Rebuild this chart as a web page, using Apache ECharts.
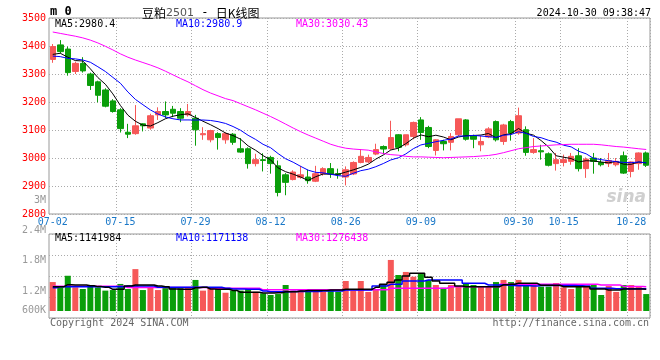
<!DOCTYPE html>
<html><head><meta charset="utf-8">
<script src="https://cdn.jsdelivr.net/npm/echarts@6/dist/echarts.min.js"></script>
<style>html,body{margin:0;padding:0;background:#fff}#c{width:660px;height:360px}</style>
</head><body><div id="c"></div>
<script>
const dates = ['07-02','07-03','07-04','07-05','07-08','07-09','07-10','07-11','07-12','07-15','07-16','07-17','07-18','07-19','07-22','07-23','07-24','07-25','07-26','07-29','07-30','07-31',
'08-01','08-02','08-05','08-06','08-07','08-08','08-09','08-12','08-13','08-14','08-15','08-16','08-19','08-20','08-21','08-22','08-23','08-26','08-27','08-28','08-29','08-30',
'09-02','09-03','09-04','09-05','09-06','09-09','09-10','09-11','09-12','09-13','09-18','09-19','09-20','09-23','09-24','09-25','09-26','09-27','09-30',
'10-08','10-09','10-10','10-11','10-14','10-15','10-16','10-17','10-18','10-21','10-22','10-23','10-24','10-25','10-28','10-29','10-30'];
const opens = [3352,3404,3389,3309,3338,3300,3272,3243,3204,3172,3092,3087,3122,3107,3154,3166,3174,3166,3154,3142,3083,3065,3087,3065,3085,3033,3033,2980,2994,3002,2972,2940,2923,2931,2932,2917,2943,2962,2944,2932,2943,2984,2986,3014,3041,3033,3083,3047,3077,3136,3109,3027,3059,3056,3083,3136,3079,3047,3075,3130,3059,3130,3089,3101,3020,3026,3015,2980,2984,2988,3008,2962,3000,2984,2980,2976,3008,2952,2980,3018];
const closes = [3398,3380,3305,3338,3311,3259,3224,3185,3166,3105,3085,3115,3115,3151,3166,3154,3160,3142,3166,3101,3087,3098,3073,3087,3056,3021,2980,2994,2991,2980,2877,2913,2950,2940,2919,2944,2962,2944,2940,2958,2984,3006,3002,3030,3032,3073,3038,3083,3127,3091,3041,3065,3051,3077,3140,3067,3067,3059,3104,3065,3118,3089,3151,3020,3030,3022,2974,2994,2994,3006,2962,2996,2988,2976,2991,2988,2946,2986,3018,2974];
const lows = [3340,3374,3294,3300,3305,3243,3199,3181,3162,3091,3071,3083,3095,3101,3136,3142,3146,3128,3148,3044,3065,3056,3030,3051,3047,3018,2962,2970,2952,2944,2863,2867,2920,2926,2908,2914,2937,2929,2926,2902,2939,2981,2982,3010,3014,3029,3024,3041,3067,3065,3035,3009,3027,3027,3077,3062,3035,3024,3071,3059,3047,3062,3083,3008,3015,2994,2970,2955,2970,2976,2952,2929,2944,2970,2968,2970,2943,2931,2958,2968];
const highs = [3407,3421,3398,3344,3360,3305,3276,3249,3210,3178,3122,3189,3124,3158,3181,3202,3186,3178,3193,3154,3110,3101,3092,3092,3089,3071,3038,3015,3017,3008,2991,2946,2956,2972,2958,2972,2967,2982,2962,2970,2988,3032,3012,3051,3045,3133,3085,3083,3130,3146,3115,3067,3065,3089,3140,3139,3083,3079,3110,3134,3122,3136,3180,3113,3071,3047,3020,3018,3012,3018,3035,3002,3018,3000,3018,3000,3023,2988,3020,3023];
const ma5 = [3370,3374,3360,3348,3346.4,3318.6,3287.4,3263.4,3229,3187.8,3153,3131.2,3117.2,3114.2,3126.4,3140.2,3149.2,3154.6,3157.6,3144.6,3131.2,3118.8,3105,3089.2,3080.2,3067,3043.4,3027.6,3008.4,2993.2,2964.4,2951,2942.2,2932,2919.8,2933.2,2943,2941.8,2941.8,2949.6,2957.6,2966.4,2978,2996,3010.8,3028.6,3035,3051.2,3070.6,3082.4,3076,3081.4,3075,3065,3074.8,3080,3080.4,3082,3087.4,3072.4,3082.6,3087,3105.4,3088.6,3081.6,3062.4,3039.4,3008,3002.8,2998,2986,2990.4,2989.2,2985.6,2982.6,2987.8,2977.8,2977.4,2985.8,2982.4];
const ma10 = [3364,3362,3356,3354,3350,3342,3326,3309,3288,3267.1,3235.8,3209.3,3190.3,3171.6,3157.1,3146.6,3140.2,3135.9,3135.9,3135.5,3135.7,3134,3129.8,3123.4,3112.4,3099.1,3081.1,3066.3,3048.8,3036.7,3015.7,2997.2,2984.9,2970.2,2956.5,2948.8,2947,2942,2936.9,2934.7,2945.4,2954.7,2959.9,2968.9,2980.2,2993.1,3000.7,3014.6,3033.3,3046.6,3052.3,3058.2,3063.1,3067.8,3078.6,3078,3080.9,3078.5,3076.2,3073.6,3081.3,3083.7,3093.7,3088,3077,3072.5,3063.2,3056.7,3045.7,3039.8,3024.2,3014.9,2998.6,2994.2,2990.3,2986.9,2984.1,2983.3,2985.7,2982.5];
const ma30 = [3450,3445,3440,3435,3429,3421,3411,3399,3386,3372,3360,3350,3341,3332,3322,3310,3297,3284,3272,3258,3244,3232,3222,3212,3205,3194,3183,3172,3160,3148,3135,3121,3107,3094,3082,3071,3060,3049,3041,3035,3032,3030,3028,3022,3016,3012,3010,3006,3004,3004,3003,3002,3001,3002,3003,3004,3005,3007,3009,3013,3019,3026,3033,3037,3041,3043,3045,3047,3048,3049,3049,3049,3049,3047,3044,3041,3039,3036,3033,3030.4];
// volume in thousands of lots
const volumesK = [1520,1240,1850,1240,1155,1365,1240,1070,1100,1420,1155,2200,1100,1240,1100,1240,1240,1240,1240,1630,1070,1190,1190,960,1070,1070,1155,1010,930,840,890,1365,1070,1155,1010,1010,1010,1100,1010,1575,1070,1575,1000,1155,1365,2680,1890,2050,1800,1940,1630,1365,1220,1365,1280,1420,1365,1280,1280,1520,1630,1520,1630,1365,1450,1280,1280,1470,1240,1155,1365,1280,1365,840,1310,1000,1365,1365,1280,890];
const volMa5K = [1276,1276,1381,1365,1365,1330,1280,1244,1139,1139,1313,1365,1365,1365,1313,1276,1155,1139,1139,1220,1244,1155,1139,1139,1080,982,982,982,945,945,960,1013,1013,1050,1080,1080,1080,1103,1103,1139,1139,1139,1139,1244,1400,1507,1628,1838,1979,1979,1769,1575,1454,1454,1313,1276,1276,1276,1276,1276,1380,1402,1454,1454,1454,1349,1349,1349,1276,1276,1276,1276,1155,1155,1103,1103,1155,1155,1155,1142];
const volMa10K = [1223,1276,1276,1276,1276,1276,1276,1276,1276,1276,1313,1313,1313,1313,1244,1244,1244,1244,1244,1244,1244,1244,1244,1192,1155,1155,1139,1139,1050,1013,1013,1013,1030,1030,1030,1030,1050,1050,1050,1103,1103,1103,1103,1313,1313,1400,1402,1575,1575,1575,1628,1628,1628,1628,1628,1454,1454,1454,1365,1365,1365,1340,1330,1330,1313,1340,1340,1340,1340,1340,1330,1313,1192,1192,1192,1171,1171,1171,1171,1171];
const volMa30K = [1300,1300,1300,1300,1300,1300,1300,1300,1300,1300,1230,1230,1230,1230,1230,1230,1230,1230,1230,1230,1230,1200,1200,1200,1200,1200,1200,1200,1110,1110,1110,1110,1110,1110,1110,1110,1110,1110,1110,1110,1110,1110,1110,1110,1110,1192,1192,1192,1192,1192,1192,1192,1192,1276,1276,1276,1276,1276,1276,1276,1400,1400,1400,1400,1400,1400,1400,1400,1400,1400,1400,1400,1400,1370,1370,1370,1290,1290,1290,1276];
const xTickLabels = ['07-02','07-15','07-29','08-12','08-26','09-09','09-30','10-15','10-28'];
const volTickLabels = ['2.4M','1.8M','1.2M','600K'];
const extraLabel = '3M';
const priceMin = 2800, priceMax = 3500, priceStep = 100;

const UP = '#f65858', DOWN = '#0a9e0a';
const MONO = 'DejaVu Sans Mono';
const candleData = opens.map((o, i) => [o, closes[i], lows[i], highs[i]]);
const volData = volumesK.map((v, i) => ({ value: v, itemStyle: { color: closes[i] >= opens[i] ? UP : DOWN } }));
const showTick = (idx, val) => xTickLabels.indexOf(val) >= 0;
const showSplit = (idx, val) => idx > 0 && xTickLabels.indexOf(val) >= 0;

const L = 49, W = 601;
const grids = [
  { left: L, width: W, top: 18, height: 196, show: true, borderColor: '#999', borderWidth: 1, backgroundColor: 'transparent' },
  { left: L, width: W, top: 234, height: 84, show: true, borderColor: '#999', borderWidth: 1 },
  { left: L, width: W, top: 234, height: 77, show: false }
];
const catAxis = (gi, labels, split) => ({
  type: 'category', gridIndex: gi, data: dates, boundaryGap: true,
  axisLine: { show: false }, axisTick: { show: false },
  axisLabel: labels ? { show: true, interval: showTick, color: '#1a78c8', fontFamily: MONO, fontSize: 10, margin: 3 } : { show: false },
  splitLine: split ? { show: true, interval: showSplit, lineStyle: { color: '#aaa', type: [1, 2], width: 1 } } : { show: false }
});

const opt = {
  animation: false,
  backgroundColor: '#fff',
  grid: grids,
  xAxis: [catAxis(0, true, true), catAxis(1, false, true), catAxis(2, false, false)],
  yAxis: [
    { type: 'value', gridIndex: 0, min: priceMin, max: priceMax, interval: priceStep,
      axisLine: { show: false }, axisTick: { show: false },
      axisLabel: { color: '#f00', fontFamily: MONO, fontSize: 10, margin: 3, formatter: v => String(v) },
      splitLine: { show: true, lineStyle: { color: '#aaa', type: [1, 2] } } },
    { type: 'value', gridIndex: 1, min: 0, max: 4, interval: 1,
      axisLine: { show: false }, axisTick: { show: false }, axisLabel: { show: false },
      splitLine: { show: true, lineStyle: { color: '#aaa', type: [1, 2] } } },
    { type: 'value', gridIndex: 2, min: 0, max: 77 * 52.5, show: false, splitLine: { show: false } }
  ],
  series: [
    { type: 'candlestick', xAxisIndex: 0, yAxisIndex: 0, data: candleData, barWidth: 6,
      itemStyle: { color: UP, color0: DOWN, borderColor: UP, borderColor0: DOWN, borderWidth: 1 } },
    { type: 'line', xAxisIndex: 0, yAxisIndex: 0, data: ma5, symbol: 'none', lineStyle: { color: '#000', width: 1 } },
    { type: 'line', xAxisIndex: 0, yAxisIndex: 0, data: ma10, symbol: 'none', lineStyle: { color: '#0000ff', width: 1 } },
    { type: 'line', xAxisIndex: 0, yAxisIndex: 0, data: ma30, symbol: 'none', lineStyle: { color: '#ff00ff', width: 1 } },
    { type: 'bar', xAxisIndex: 2, yAxisIndex: 2, data: volData, barWidth: 6 },
    { type: 'line', xAxisIndex: 2, yAxisIndex: 2, data: volMa30K, symbol: 'none', step: 'middle', lineStyle: { color: '#ff00ff', width: 1.5 } },
    { type: 'line', xAxisIndex: 2, yAxisIndex: 2, data: volMa10K, symbol: 'none', step: 'middle', lineStyle: { color: '#0000ff', width: 1.5 } },
    { type: 'line', xAxisIndex: 2, yAxisIndex: 2, data: volMa5K, symbol: 'none', step: 'middle', lineStyle: { color: '#000', width: 1.5 } }
  ]
};

function txt(x, y, text, font, fill, align) {
  return { type: 'text', x: x, y: y, silent: true, z: 100,
    style: { text: text, font: font, fill: fill, align: align || 'left', textAlign: align || 'left', verticalAlign: 'middle', textVerticalAlign: 'middle' } };
}
const volLabelY = [230.5, 260, 291, 310.5];
opt.graphic = [
  txt(50, 12, 'm 0', 'bold 12px ' + MONO, '#000'),
  { type: 'text', x: 142, y: 13, silent: true, z: 100,
    style: { text: '{a|豆粕}{b|2501}{c| - }{a|日K线图}', verticalAlign: 'middle', textVerticalAlign: 'middle',
      rich: { a: { font: '12px "Noto Sans CJK SC"', fill: '#000' }, b: { font: '11px "DejaVu Sans"', fill: '#555' }, c: { font: '12px ' + MONO, fill: '#000' } } } },
  txt(651, 13, '2024-10-30 09:38:47', '10px ' + MONO, '#000', 'right'),
  txt(55, 24, 'MA5:2980.4', '10px ' + MONO, '#000'),
  txt(176, 24, 'MA10:2980.9', '10px ' + MONO, '#0000ff'),
  txt(296, 24, 'MA30:3030.43', '10px ' + MONO, '#ff00ff'),
  txt(55, 238.5, 'MA5:1141984', '10px ' + MONO, '#000'),
  txt(176, 238.5, 'MA10:1171138', '10px ' + MONO, '#0000ff'),
  txt(296, 238.5, 'MA30:1276438', '10px ' + MONO, '#ff00ff'),
  txt(46, 200, extraLabel, '10px ' + MONO, '#999', 'right'),
  txt(50, 323, 'Copyright 2024 SINA.COM', '10px ' + MONO, '#666'),
  txt(649, 323, 'http://finance.sina.com.cn', '10px ' + MONO, '#666', 'right'),
  txt(646, 198, 'sina', 'italic bold 17px "DejaVu Sans"', '#cfcfcf', 'right')
].concat(volTickLabels.map((t, i) => txt(46, volLabelY[i], t, '10px ' + MONO, '#999', 'right')));

const chart = echarts.init(document.getElementById('c'), null, { renderer: 'canvas' });
chart.setOption(opt);
</script></body></html>
